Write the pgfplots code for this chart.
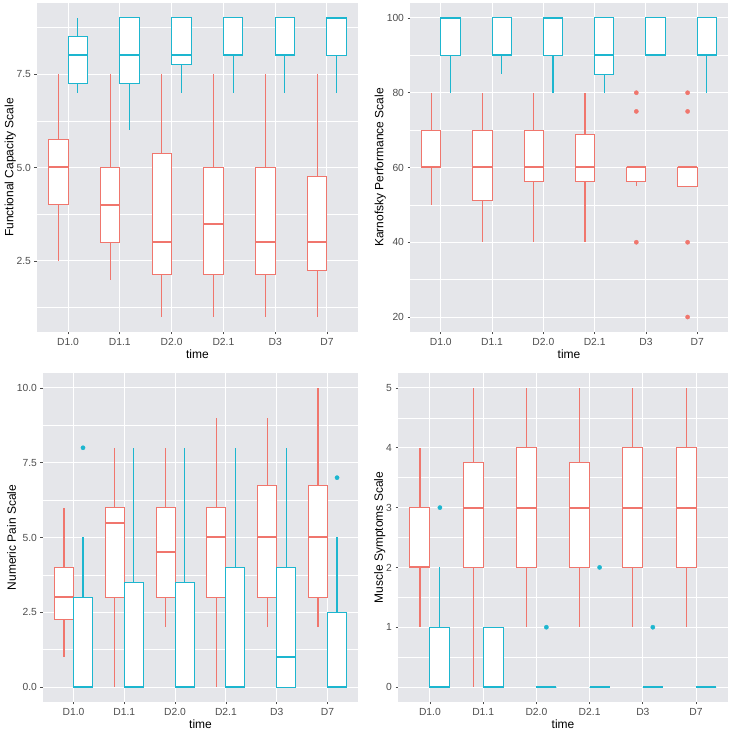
\documentclass[border=0pt]{standalone}
\usepackage{pgfplots}
\pgfplotsset{compat=1.18}
\usepgfplotslibrary{statistics}
\usepackage{fontspec}
\setmainfont{Liberation Sans}
\definecolor{ggred}{HTML}{F0766D}
\definecolor{ggblue}{HTML}{1DB6CF}
\definecolor{ggbg}{HTML}{E5E6EA}
\definecolor{grey30}{HTML}{4D4D4D}
\pgfplotsset{
  ggbox/.style={
    scale only axis,
    anchor=south west,
    axis background/.style={fill=ggbg},
    axis line style={draw=none},
    xmin=0.4, xmax=6.6,
    xtick={1,2,3,4,5,6},
    xticklabels={D1.0,D1.1,D2.0,D2.1,D3,D7},
    grid=both,
    major grid style={white, line width=1pt},
    minor grid style={white, line width=0.5pt},
    minor x tick num=0,
    tick align=outside,
    major tick length=2.5pt,
    minor tick length=0pt,
    tick style={grey30, line width=0.7pt},
    xtick pos=left, ytick pos=left,
    ticklabel style={font=\fontsize{10.3}{11}\selectfont, text=grey30},
    /pgf/number format/assume math mode=true,
    xlabel=time,
    label style={font=\fontsize{12}{13}\selectfont},
    xlabel style={yshift=2pt},
    ylabel style={yshift=-6pt},
    boxplot/draw direction=y,
    boxplot/box extend=0.375,
    boxplot/whisker extend=0,
    boxplot/every box/.style={fill=white},
    boxplot/every median/.style={line width=2pt},
    clip=false,
  },
  rb/.style={draw=ggred, line width=1pt, boxplot/every whisker/.style={draw=ggred, line width=1.1pt}},
  bb/.style={draw=ggblue, line width=1pt, boxplot/every whisker/.style={draw=ggblue, line width=1.1pt}},
  rout/.style={only marks, mark=*, mark size=2.1pt, ggred, mark options={fill=ggred, draw=ggred}},
  bout/.style={only marks, mark=*, mark size=2.1pt, ggblue, mark options={fill=ggblue, draw=ggblue}},
}
% #1 style, #2 position, #3 lw, #4 lq, #5 med, #6 uq, #7 uw
\newcommand{\bx}[7]{\addplot[#1, boxplot prepared={draw position=#2, lower whisker=#3, lower quartile=#4, median=#5, upper quartile=#6, upper whisker=#7}] coordinates {};}
\begin{document}
\begin{tikzpicture}
\useasboundingbox (0pt,0pt) rectangle (731pt,733pt);
% Panel 1: Functional Capacity
\begin{axis}[ggbox, at={(37pt,401pt)}, width=321pt, height=329pt,
  ymin=0.6, ymax=9.4, ytick={2.5,5,7.5}, yticklabels={2.5,5.0,7.5},
  minor ytick={1.25,3.75,6.25,8.75},
  ylabel={Functional Capacity Scale}]
\bx{rb}{0.8125}{2.5}{4}{5}{5.75}{7.5}
\bx{bb}{1.1875}{7}{7.25}{8}{8.5}{9}
\bx{rb}{1.8125}{2}{3}{4}{5}{7.5}
\bx{bb}{2.1875}{6}{7.25}{8}{9}{9}
\bx{rb}{2.8125}{1}{2.125}{3}{5.375}{7.5}
\bx{bb}{3.1875}{7}{7.75}{8}{9}{9}
\bx{rb}{3.8125}{1}{2.125}{3.5}{5}{7.5}
\bx{bb}{4.1875}{7}{8}{8}{9}{9}
\bx{rb}{4.8125}{1}{2.125}{3}{5}{7.5}
\bx{bb}{5.1875}{7}{8}{8}{9}{9}
\bx{rb}{5.8125}{1}{2.25}{3}{4.75}{7.5}
\bx{bb}{6.1875}{7}{8}{9}{9}{9}
\end{axis}
% Panel 2: Karnofsky
\begin{axis}[ggbox, at={(410pt,401pt)}, width=318pt, height=329pt,
  ymin=16, ymax=104, ytick={20,40,60,80,100},
  minor ytick={30,50,70,90},
  ylabel={Karnofsky Performance Scale}]
\bx{rb}{0.8125}{50}{60}{60}{70}{80}
\bx{bb}{1.1875}{80}{90}{100}{100}{100}
\bx{rb}{1.8125}{40}{51.25}{60}{70}{80}
\bx{bb}{2.1875}{85}{90}{90}{100}{100}
\bx{rb}{2.8125}{40}{56.25}{60}{70}{80}
\bx{bb}{3.1875}{80}{90}{100}{100}{100}
\bx{rb}{3.8125}{40}{56.25}{60}{68.75}{80}
\bx{bb}{4.1875}{80}{85}{90}{100}{100}
\bx{rb}{4.8125}{55}{56.25}{60}{60}{60}
\bx{bb}{5.1875}{90}{90}{90}{100}{100}
\bx{rb}{5.8125}{55}{55}{60}{60}{60}
\bx{bb}{6.1875}{80}{90}{90}{100}{100}
\addplot[rout] coordinates {(4.8125,80) (4.8125,75) (4.8125,40) (5.8125,80) (5.8125,75) (5.8125,40) (5.8125,20)};
\end{axis}
% Panel 3: Numeric Pain
\begin{axis}[ggbox, at={(43pt,31pt)}, width=315pt, height=329pt,
  ymin=-0.5, ymax=10.5, ytick={0,2.5,5,7.5,10}, yticklabels={0.0,2.5,5.0,7.5,10.0},
  minor ytick={1.25,3.75,6.25,8.75},
  ylabel={Numeric Pain Scale}]
\bx{rb}{0.8125}{1}{2.25}{3}{4}{6}
\bx{bb}{1.1875}{0}{0}{0}{3}{5}
\bx{rb}{1.8125}{0}{3}{5.5}{6}{8}
\bx{bb}{2.1875}{0}{0}{0}{3.5}{8}
\bx{rb}{2.8125}{2}{3}{4.5}{6}{8}
\bx{bb}{3.1875}{0}{0}{0}{3.5}{8}
\bx{rb}{3.8125}{0}{3}{5}{6}{9}
\bx{bb}{4.1875}{0}{0}{0}{4}{8}
\bx{rb}{4.8125}{2}{3}{5}{6.75}{9}
\bx{bb}{5.1875}{0}{0}{1}{4}{8}
\bx{rb}{5.8125}{2}{3}{5}{6.75}{10}
\bx{bb}{6.1875}{0}{0}{0}{2.5}{5}
\addplot[bout] coordinates {(1.1875,8) (6.1875,7)};
\end{axis}
% Panel 4: Muscle Symptoms
\begin{axis}[ggbox, at={(398pt,31pt)}, width=330pt, height=329pt,
  ymin=-0.25, ymax=5.25, ytick={0,1,2,3,4,5},
  minor ytick={0.5,1.5,2.5,3.5,4.5},
  ylabel={Muscle Symptoms Scale}]
\bx{rb}{0.8125}{1}{2}{2}{3}{4}
\bx{bb}{1.1875}{0}{0}{0}{1}{2}
\bx{rb}{1.8125}{0}{2}{3}{3.75}{5}
\bx{bb}{2.1875}{0}{0}{0}{1}{1}
\bx{rb}{2.8125}{1}{2}{3}{4}{5}
\bx{bb}{3.1875}{0}{0}{0}{0}{0}
\bx{rb}{3.8125}{1}{2}{3}{3.75}{5}
\bx{bb}{4.1875}{0}{0}{0}{0}{0}
\bx{rb}{4.8125}{1}{2}{3}{4}{5}
\bx{bb}{5.1875}{0}{0}{0}{0}{0}
\bx{rb}{5.8125}{1}{2}{3}{4}{5}
\bx{bb}{6.1875}{0}{0}{0}{0}{0}
\addplot[bout] coordinates {(1.1875,3) (3.1875,1) (4.1875,2) (5.1875,1)};
\end{axis}
\end{tikzpicture}
\end{document}
